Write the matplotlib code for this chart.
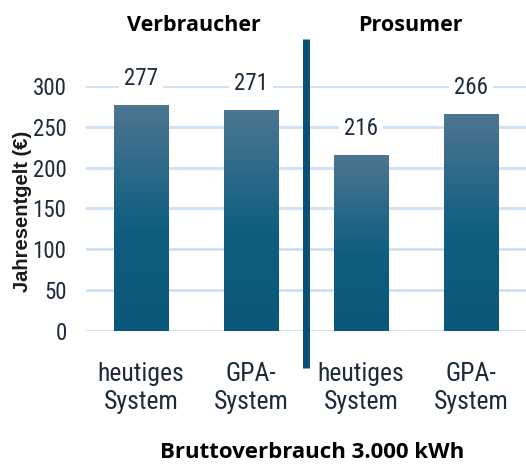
import numpy as np
import matplotlib.pyplot as plt
from matplotlib.colors import LinearSegmentedColormap

# data
categories = ['heutiges\nSystem', 'GPA-\nSystem', 'heutiges\nSystem', 'GPA-\nSystem']
values = [277, 271, 216, 266]
groups = ['Verbraucher', 'Prosumer']
y_ticks = [0, 50, 100, 150, 200, 250, 300]

narrow = ['Roboto Condensed', 'Roboto', 'DejaVu Sans']
tick_col = '#1c2b3c'

fig = plt.figure(figsize=(5.26, 4.66), dpi=100)
ax = fig.add_axes([0.1635, 0.2897, 0.8365, 0.5258])

x = np.arange(len(values))
bars = ax.bar(x, values, width=0.5, color='none', zorder=2)

# gradient fill, lighter at top
cmap = LinearSegmentedColormap.from_list(
    'grad', [(0.0, '#0b577a'), (0.45, '#0f5e80'), (1.0, '#4d7692')])
grad = np.linspace(0, 1, 256).reshape(-1, 1)
for b in bars:
    x0, y0 = b.get_x(), b.get_y()
    w, h = b.get_width(), b.get_height()
    im = ax.imshow(grad, cmap=cmap, origin='lower', aspect='auto',
                   extent=(x0, x0 + w, y0, y0 + h), zorder=2)
    im.set_clip_path(b)

for xi, v in zip(x, values):
    ax.annotate(str(v), (xi, v), xytext=(0, 19), textcoords='offset points',
                ha='center', va='center', fontsize=16.5, family=narrow,
                color=tick_col, zorder=4,
                bbox=dict(boxstyle='square,pad=0.2', fc='white', ec='none'))

ax.set_xlim(-0.5, len(values) - 0.5)
ax.set_ylim(0, 300)
ax.set_yticks(y_ticks)
ax.set_xticks(x)
ax.set_xticklabels(categories)
ax.grid(axis='y', color='#cfe0f1', linewidth=2, zorder=0)
ax.set_axisbelow(True)
for s in ax.spines.values():
    s.set_visible(False)
ax.tick_params(length=0)
ax.tick_params(axis='y', pad=14)
ax.tick_params(axis='x', pad=22)
for lab in ax.get_yticklabels():
    lab.set_family(narrow)
    lab.set_fontsize(16.5)
    lab.set_color(tick_col)
for lab in ax.get_xticklabels():
    lab.set_family(narrow)
    lab.set_fontsize(18.5)
    lab.set_color(tick_col)
    lab.set_linespacing(1.25)

ax.set_ylabel('Jahresentgelt (€)', fontsize=14.5, fontweight='bold',
              family='Liberation Sans', color='#1a1a1a', va='center')
ax.yaxis.set_label_coords(-0.145, 0.49)
ax.set_xlabel('Bruttoverbrauch 3.000 kWh', fontsize=16, fontweight='bold',
              family='Open Sans', color='black', va='center')
ax.xaxis.set_label_coords(0.514, -0.494)

# divider between groups
ax.plot([1.5, 1.5], [-45, 358], color='#0a4f76', linewidth=5,
        clip_on=False, zorder=3, solid_capstyle='butt')

for xi, g in zip([0.48, 2.45], groups):
    ax.text(xi, 374, g, ha='center', va='center', fontsize=15.5,
            fontweight='bold', family='Open Sans', color='black')

fig.savefig('out.png', dpi=100)
